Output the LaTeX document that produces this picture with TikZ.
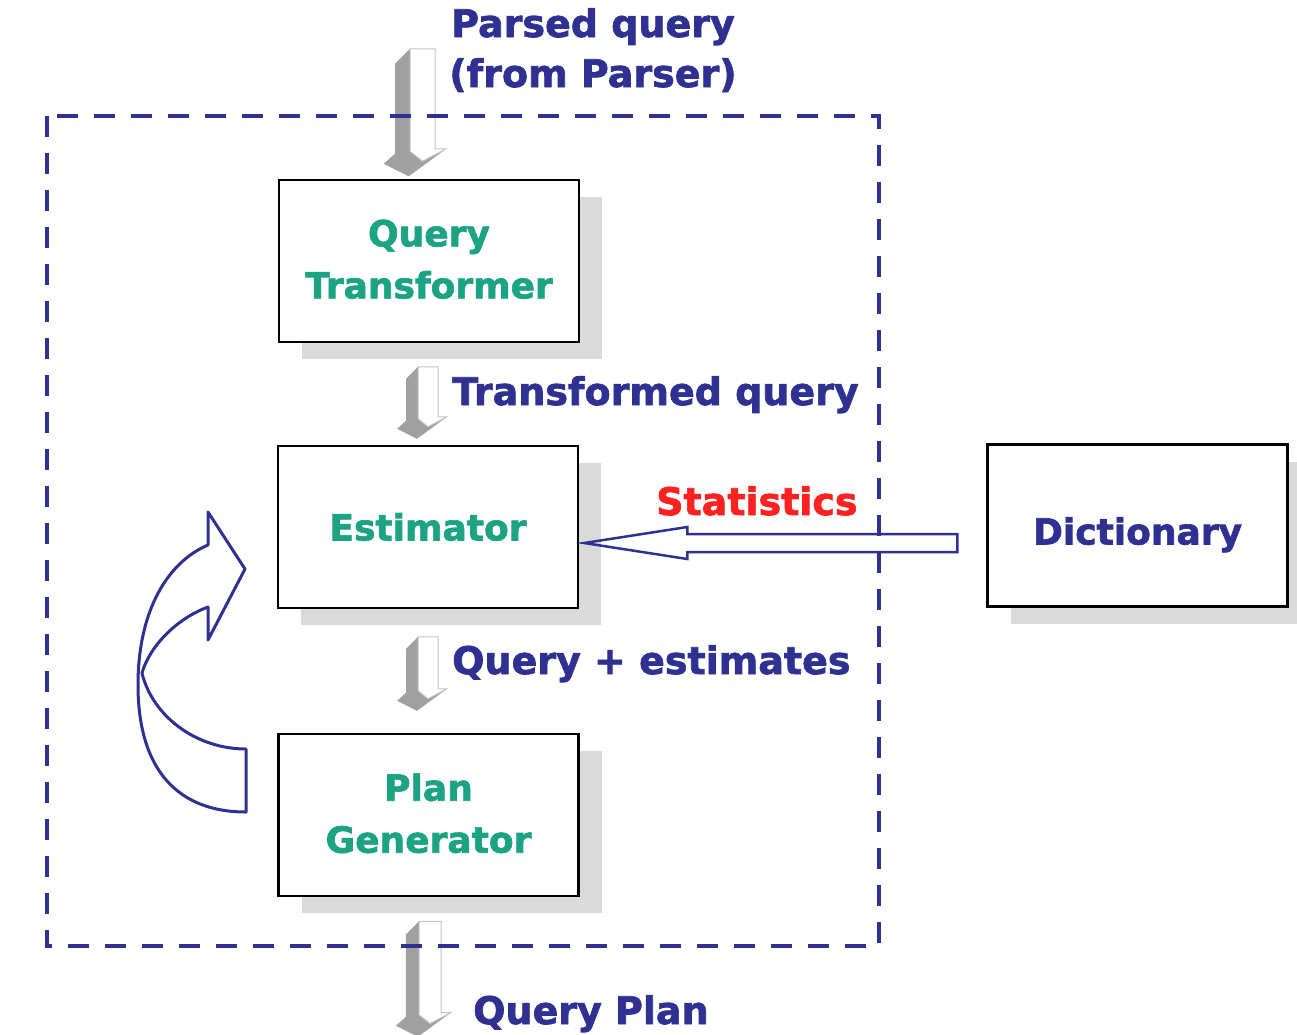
\documentclass[tikz,border=0pt]{standalone}
\usepackage{fontspec}
\setmainfont{DejaVu Sans}[BoldFeatures={FakeBold=1.8}]
\usetikzlibrary{calc,positioning,shadows}
\definecolor{navy}{HTML}{2E3192}
\definecolor{boxgreen}{HTML}{1BA383}
\definecolor{statred}{HTML}{FF2020}
\definecolor{shadowgray}{HTML}{DADADA}
\definecolor{arrowdark}{HTML}{A0A0A0}
\definecolor{arrowedge}{HTML}{C4C4C4}
\tikzset{
  stagebox/.style={draw=black,line width=2.5pt,fill=white,minimum width=300pt,
                   minimum height=162pt,inner sep=0pt,align=center,text=boxgreen,
                   font=\bfseries\fontsize{36}{52}\selectfont,
                   drop shadow={shadow xshift=23pt,shadow yshift=-17pt,
                                fill=shadowgray,opacity=1}},
  flowlabel/.style={anchor=base west,inner sep=0pt,text=navy,
                    font=\bfseries\fontsize{38}{50}\selectfont},
  frame/.style={draw=navy,line width=3.5pt,dash pattern=on 21pt off 16pt},
  loopline/.style={draw=navy,line width=3pt,line join=round},
  statline/.style={draw=navy,line width=2.5pt,line join=miter},
  pics/grayarrow/.style={code={
    \fill[arrowdark] (-12,12) -- (0,0) -- (0,#1-20) -- (10,#1-12) -- (29,#1-22)
      -- (-1,#1) -- (-21,#1-10) -- (-12,#1-18) -- cycle;
    \filldraw[fill=white,draw=arrowedge,line width=1pt] (0,0) -- (20,0)
      -- (20,#1-22) -- (29,#1-22) -- (10,#1-12) -- (0,#1-20) -- cycle;
  }}
}
\begin{document}
\begin{tikzpicture}[x=1pt,y=-1pt]
  \useasboundingbox (0,0) rectangle (1297,1034);

  % Optimizer stages
  \node[stagebox] (qt) at (429,261) {\raisebox{4pt}{Query}\\\raisebox{4pt}{Transformer}};
  \node[stagebox] (est) at (428,527) {Estimator};
  \node[stagebox] (pg) at (428.5,815) {\raisebox{4pt}{Plan}\\\raisebox{4pt}{Generator}};
  \node[stagebox,text=navy] (dict) at (1137.5,525.5)
    {\raisebox{-19pt}[0pt][0pt]{Dictionary}};

  % Flow between stages
  \pic[scale=1.25] at ($(qt.north)+(-19,-130)$) {grayarrow=102};
  \pic at ($(est.north)+(-10,-78)$) {grayarrow=72};
  \pic at ($(pg.north)+(-10.5,-96)$) {grayarrow=74};
  \pic[scale=1.1] at ($(pg.south)+(-9.5,24)$) {grayarrow=105};

  \node[flowlabel,anchor=base,align=center] (parsed) at (593,87)
    {Parsed query\\(from Parser)};
  \node[flowlabel] (transformed) at (452,405) {Transformed query};
  \node[flowlabel] (estimates) at (452,674) {Query + estimates};
  \node[flowlabel] (plan) at (473,1024) {Query Plan};

  % Statistics from the dictionary
  \coordinate (stattip) at ($(est.east)+(5,16)$);
  \coordinate (stattail) at ($(dict.west)+(-29,17.5)$);
  \draw[statline] ($(stattail)+(0,-9)$) -- ($(stattip)+(103,-9)$)
    -- ($(stattip)+(103,-16)$) -- (stattip) -- ($(stattip)+(103,16)$)
    -- ($(stattip)+(103,9)$) -- ($(stattail)+(0,9)$) -- cycle;
  \node[flowlabel,text=statred] (stats) at (656,515) {Statistics};

  % Feedback loop
  \draw[loopline] (246,812) .. controls (178,812) and (138,770) .. (138,685)
    .. controls (138,610) and (168,562) .. (208,545) -- (208,512) -- (245,569)
    -- (208,640) -- (208,607) .. controls (178,618) and (150,645) .. (142,673)
    .. controls (152,715) and (195,749) .. (246,749) -- cycle;

  % Optimizer boundary
  \draw[frame] (47,116) rectangle (879,946);
\end{tikzpicture}
\end{document}
